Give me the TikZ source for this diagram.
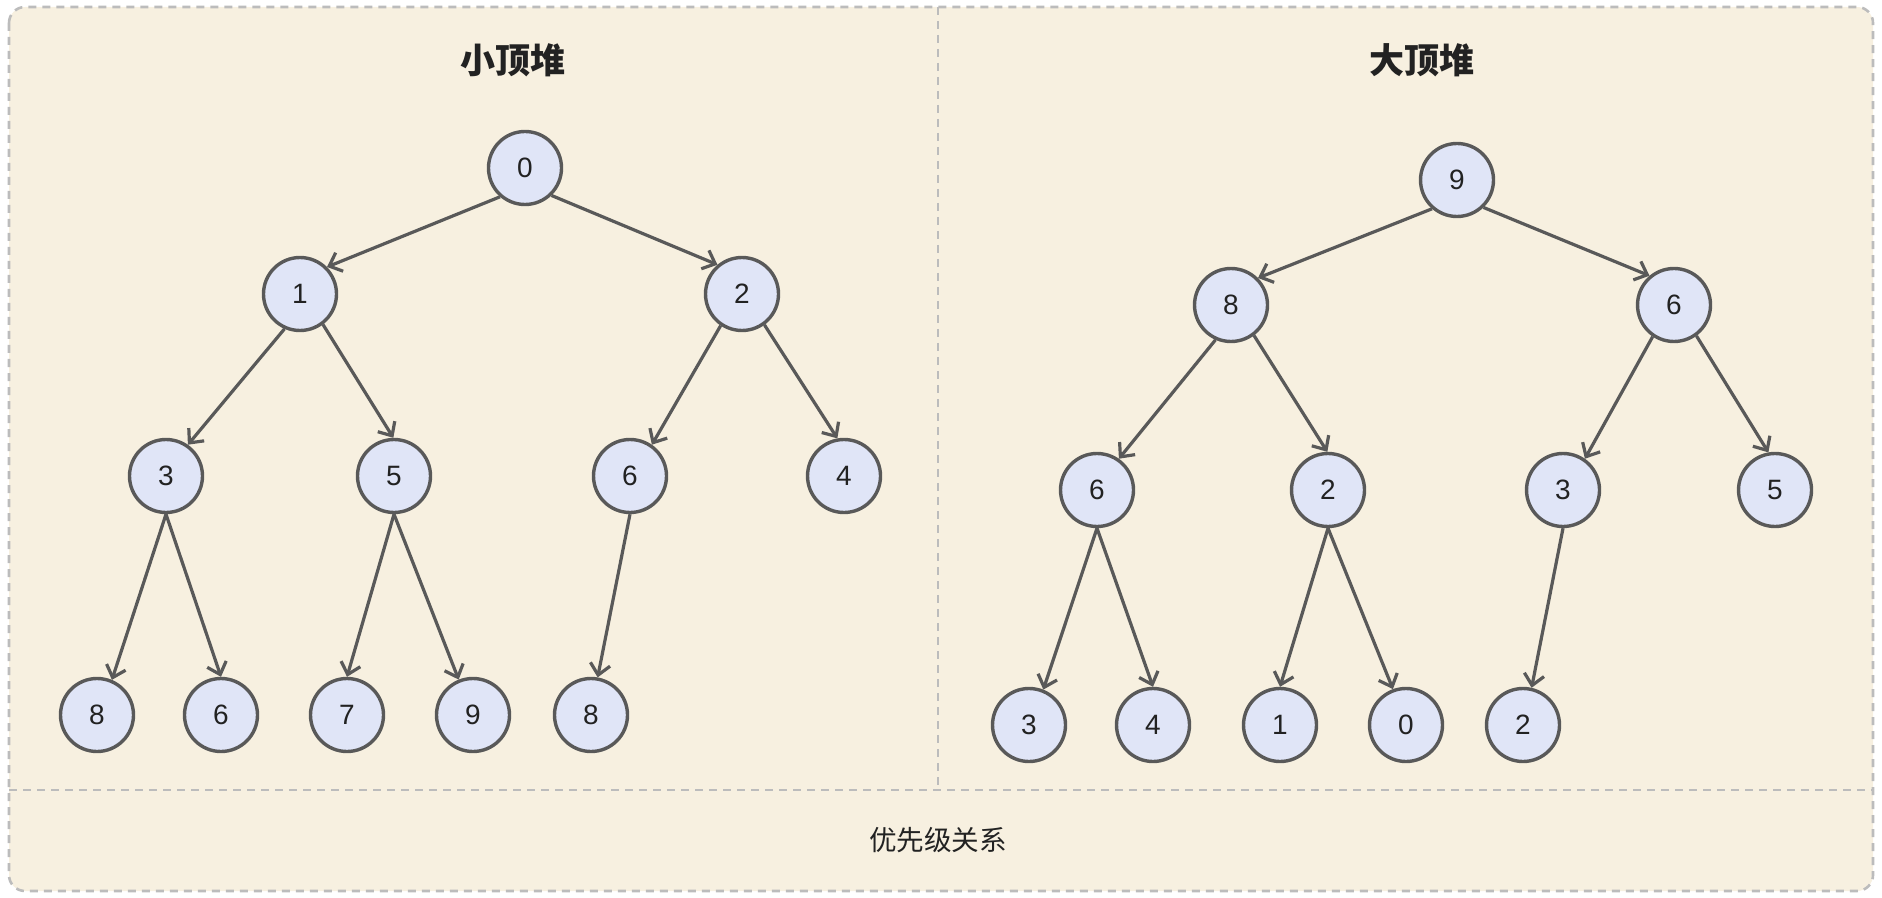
\documentclass[tikz,border=0pt]{standalone}
\usepackage{fontspec}
\setmainfont{Liberation Sans}
\newfontfamily\cjkfont{Noto Sans CJK SC}
\usetikzlibrary{arrows.meta,positioning}
\definecolor{paper}{RGB}{247,240,224}
\definecolor{nodefill}{RGB}{224,229,247}
\definecolor{edgegray}{RGB}{89,89,89}
\definecolor{boxgray}{RGB}{188,188,188}
\definecolor{inkdark}{RGB}{34,34,34}

\begin{document}
\begin{tikzpicture}[
  x=0.5pt,y=-0.5pt,
  heapnode/.style={
    circle,
    draw=edgegray,
    line width=1.7pt,
    fill=nodefill,
    minimum size=36.5pt,
    inner sep=0pt,
    text=inkdark,
    font=\fontsize{14}{16}\selectfont
  },
  heapedge/.style={
    draw=edgegray,
    line width=1.6pt,
    -{Straight Barb[length=5.5pt,width=10pt]}
  },
  framebox/.style={
    draw=boxgray,
    line width=1.3pt,
    dash pattern=on 4pt off 3pt
  },
  heading/.style={
    text=inkdark,
    font=\cjkfont\bfseries\fontsize{17.5}{20}\selectfont
  }
]
\useasboundingbox (0,0) rectangle (1882,898);
\draw[framebox,fill=paper,rounded corners=8pt] (9,7) rectangle (1873,891);
\draw[framebox] (938,7) -- (938,790);
\draw[framebox] (9,790) -- (1873,790);

\node[heading] (mintitle) at (513,60) {小顶堆};
\node[heading] (maxtitle) at (1422,60) {大顶堆};
\node[text=inkdark,font=\cjkfont\fontsize{13.8}{16}\selectfont] (relation) at (938,840) {优先级关系};

% min heap
\node[heapnode] (a0) at (525,168) {0};
\node[heapnode] (a1) at (300,294) {1};
\node[heapnode] (a2) at (742,294) {2};
\node[heapnode] (a3) at (166,476) {3};
\node[heapnode] (a4) at (394,476) {5};
\node[heapnode] (a5) at (630,476) {6};
\node[heapnode] (a6) at (844,476) {4};
\node[heapnode] (a7) at (97,715) {8};
\node[heapnode] (a8) at (221,715) {6};
\node[heapnode] (a9) at (347,715) {7};
\node[heapnode] (a10) at (473,715) {9};
\node[heapnode] (a11) at (591,715) {8};

% max heap
\node[heapnode] (b0) at (1457,180) {9};
\node[heapnode] (b1) at (1231,305) {8};
\node[heapnode] (b2) at (1674,305) {6};
\node[heapnode] (b3) at (1097,490) {6};
\node[heapnode] (b4) at (1328,490) {2};
\node[heapnode] (b5) at (1563,490) {3};
\node[heapnode] (b6) at (1775,490) {5};
\node[heapnode] (b7) at (1029,725) {3};
\node[heapnode] (b8) at (1153,725) {4};
\node[heapnode] (b9) at (1280,725) {1};
\node[heapnode] (b10) at (1406,725) {0};
\node[heapnode] (b11) at (1523,725) {2};

% parent/child/leave angle/enter angle
\foreach \p/\c/\s/\e in {0/1/229/45, 0/2/314/130,
    1/3/246/55, 1/4/307/91, 2/5/236/55, 2/6/306/100}{
  \draw[heapedge] (a\p.\s) -- (a\c.\e);
  \draw[heapedge] (b\p.\s) -- (b\c.\e);
}
\foreach \p/\c/\e in {3/7/67, 3/8/90, 4/9/90, 4/10/112, 5/11/80}
  \draw[heapedge] (a\p.south) -- (a\c.\e);
\foreach \p/\c/\e in {3/7/68, 3/8/90, 4/9/90, 4/10/110, 5/11/77}
  \draw[heapedge] (b\p.south) -- (b\c.\e);
\end{tikzpicture}
\end{document}
